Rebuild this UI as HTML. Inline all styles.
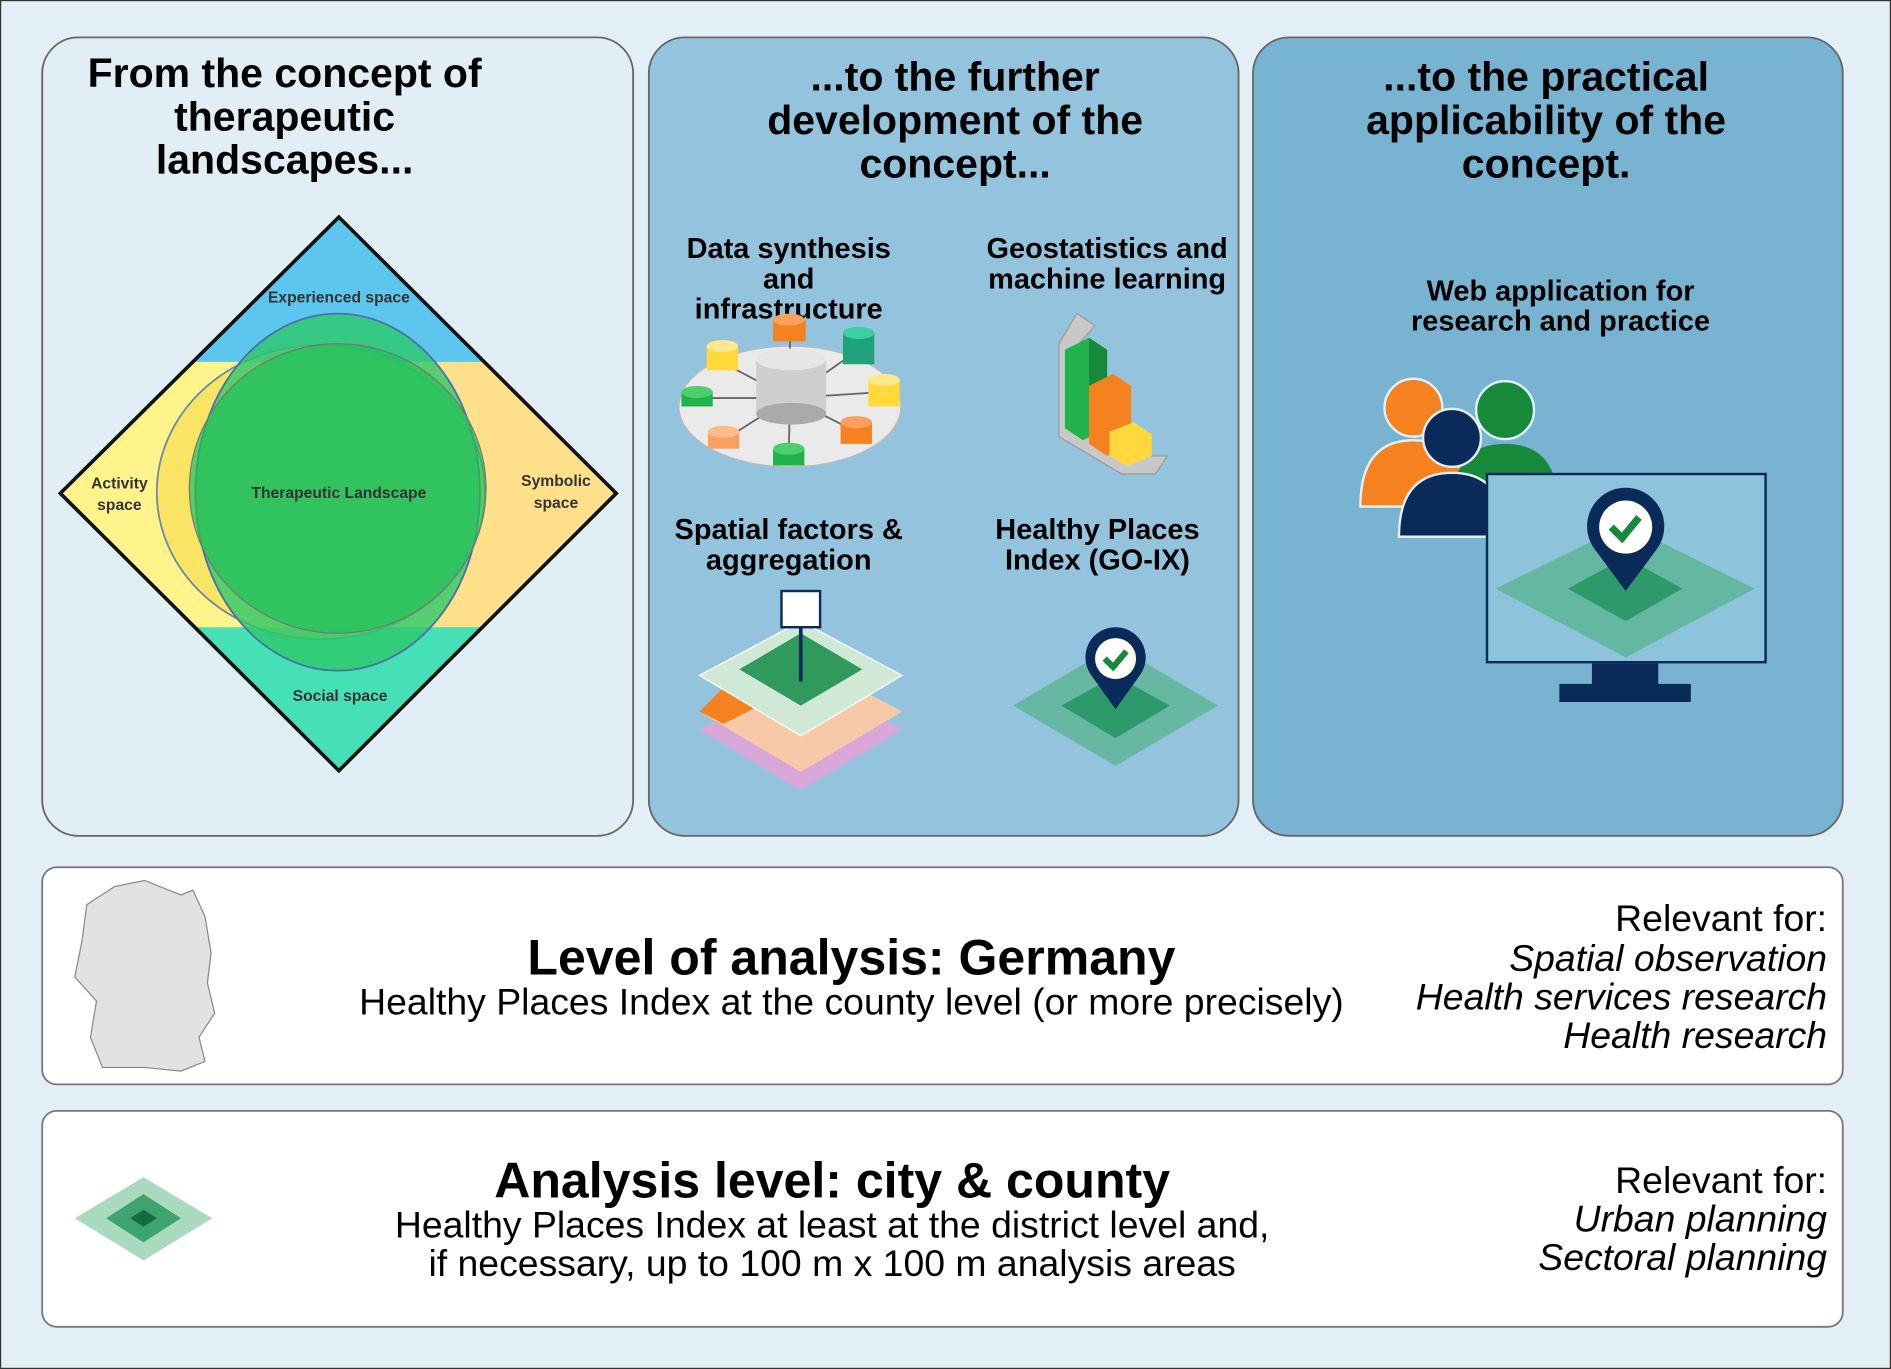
<!DOCTYPE html>
<html><head><meta charset="utf-8"><style>
html,body{margin:0;padding:0;background:#e3eff6}
svg{display:block}
text{font-family:"Liberation Sans",Arial,sans-serif;fill:#000}
.h{font-weight:bold;font-size:34px;text-anchor:middle}
.s{font-weight:bold;font-size:24px;text-anchor:middle}
.d{font-size:13px;font-weight:bold;text-anchor:middle;fill:#333}
</style></head><body>
<svg width="1891" height="1369" viewBox="0 0 1568 1135" preserveAspectRatio="none">
<rect x="0.5" y="0.5" width="1567" height="1134" fill="#e3eff6" stroke="#333"/>
<rect x="35" y="31" width="490" height="662" rx="30" fill="#e1eef5" stroke="#666" stroke-width="1.5"/>
<rect x="538" y="31" width="489" height="662" rx="30" fill="#94c4dd" stroke="#666" stroke-width="1.5"/>
<rect x="1039" y="31" width="489" height="662" rx="30" fill="#78b3d1" stroke="#666" stroke-width="1.5"/>
<rect x="35" y="719" width="1493" height="180" rx="12" fill="#fff" stroke="#777" stroke-width="1.5"/>
<rect x="35" y="921" width="1493" height="179" rx="12" fill="#fff" stroke="#777" stroke-width="1.5"/>

<text class="h" x="236" y="72">From the concept of</text>
<text class="h" x="236" y="108">therapeutic</text>
<text class="h" x="236" y="144">landscapes...</text>
<text class="h" x="792" y="75">...to the further</text>
<text class="h" x="792" y="111">development of the</text>
<text class="h" x="792" y="147">concept...</text>
<text class="h" x="1282" y="75">...to the practical</text>
<text class="h" x="1282" y="111">applicability of the</text>
<text class="h" x="1282" y="147">concept.</text>

<defs><clipPath id="dc"><polygon points="281,180 511,409 281,639 50,409"/></clipPath></defs>
<g clip-path="url(#dc)">
<polygon points="281,180 511,409 281,639 50,409" fill="#fff48c"/>
<polygon points="281,409 511,409 281,639" fill="#ffe08a"/>
<polygon points="281,409 511,409 281,180" fill="#ffe08a"/>
<polygon points="40,300 520,300 281,180" fill="#5cc6ee"/>
<polygon points="40,520 520,520 281,650" fill="#45e0b6"/>
<ellipse cx="266" cy="408" rx="136" ry="122" fill="#f5d84a" fill-opacity="0.6" stroke="#6a8aa8" stroke-width="1.5"/>
<ellipse cx="280" cy="408" rx="118" ry="148" fill="#2dc86a" fill-opacity="0.8" stroke="#4a70a8" stroke-width="1.5"/>
<ellipse cx="280" cy="405" rx="123" ry="120" fill="#22c05a" fill-opacity="0.7" stroke="#777" stroke-width="1"/>
</g>
<polygon points="281,180 511,409 281,639 50,409" fill="none" stroke="#111" stroke-width="3"/>
<text class="d" x="281" y="251">Experienced space</text>
<text class="d" x="281" y="413">Therapeutic Landscape</text>
<text class="d" x="99" y="405">Activity</text><text class="d" x="99" y="423">space</text>
<text class="d" x="461" y="403">Symbolic</text><text class="d" x="461" y="421">space</text>
<text class="d" x="282" y="581">Social space</text>

<text class="s" x="654" y="214">Data synthesis</text>
<text class="s" x="654" y="239">and</text>
<text class="s" x="654" y="264">infrastructure</text>
<text class="s" x="918" y="214">Geostatistics and</text>
<text class="s" x="918" y="239">machine learning</text>
<text class="s" x="654" y="447">Spatial factors &amp;</text>
<text class="s" x="654" y="472">aggregation</text>
<text class="s" x="910" y="447">Healthy Places</text>
<text class="s" x="910" y="472">Index (GO-IX)</text>

<ellipse cx="655" cy="337" rx="92" ry="50" fill="#eaeaea" stroke="#bbb"/>
<g stroke="#666" stroke-width="1.5"><line x1="655" y1="330" x2="598" y2="300"/><line x1="655" y1="330" x2="712" y2="290"/><line x1="655" y1="330" x2="578" y2="330"/><line x1="655" y1="330" x2="732" y2="325"/><line x1="655" y1="330" x2="600" y2="365"/><line x1="655" y1="330" x2="710" y2="358"/><line x1="655" y1="330" x2="654" y2="378"/><line x1="655" y1="330" x2="655" y2="272"/></g>
<rect x="627" y="298" width="58" height="45" fill="#cfcfcf"/><ellipse cx="656" cy="298" rx="29" ry="9" fill="#e6e6e6"/><ellipse cx="656" cy="343" rx="29" ry="9" fill="#aaa"/>
<g>
<rect x="641" y="265" width="27" height="18" fill="#f5821f"/><ellipse cx="654" cy="265" rx="13" ry="5" fill="#f9a15a"/>
<rect x="586" y="287" width="26" height="20" fill="#ffd83a"/><ellipse cx="599" cy="287" rx="13" ry="5" fill="#ffe88a"/>
<rect x="699" y="276" width="26" height="26" fill="#1fa27a"/><ellipse cx="712" cy="276" rx="13" ry="5" fill="#3ad0a4"/>
<rect x="565" y="325" width="26" height="12" fill="#22b24c"/><ellipse cx="578" cy="325" rx="13" ry="5" fill="#4bd06c"/>
<rect x="720" y="315" width="26" height="22" fill="#ffd83a"/><ellipse cx="733" cy="315" rx="13" ry="5" fill="#ffe88a"/>
<rect x="587" y="358" width="26" height="14" fill="#f9a15a"/><ellipse cx="600" cy="358" rx="13" ry="5" fill="#fbbb8a"/>
<rect x="697" y="350" width="26" height="18" fill="#f5821f"/><ellipse cx="710" cy="350" rx="13" ry="5" fill="#f9a15a"/>
<rect x="641" y="372" width="26" height="14" fill="#22b24c"/><ellipse cx="654" cy="372" rx="13" ry="5" fill="#4bd06c"/>
</g>
<polygon points="878,285 893,260 908,270 892,288 892,352 940,378 968,378 958,393 930,393 878,362" fill="#c8c8c8" stroke="#999"/>
<polygon points="883,290 903,280 918,290 918,355 898,365 883,355" fill="#22b24c"/><polygon points="903,280 918,290 918,355 903,345" fill="#168a3a"/>
<polygon points="903,320 923,310 938,320 938,368 918,378 903,368" fill="#f5821f"/>
<polygon points="920,358 940,350 955,360 955,378 935,386 920,378" fill="#ffd83a"/>
<g>
<polygon points="664,560 748,605 664,655 580,605" fill="#d9a6d9"/>
<polygon points="664,545 748,590 664,640 580,590" fill="#f7c9a8"/><polygon points="600,570 630,585 600,600 580,590" fill="#f5821f"/>
<polygon points="664,515 748,560 664,610 580,560" fill="#cfe9d6" stroke="#fff"/>
<polygon points="664,525 715,555 664,585 613,555" fill="#2f9a5c"/>
<line x1="664" y1="495" x2="664" y2="565" stroke="#0a2a5a" stroke-width="3"/>
<rect x="648" y="490" width="32" height="30" fill="#fff" stroke="#0a2a5a" stroke-width="2"/>
</g>
<polygon points="925,535 1010,585 925,635 840,585" fill="#5ab593" opacity="0.8"/>
<polygon points="925,560 970,585 925,612 880,585" fill="#2e9a6c"/>
<path d="M925,588 L905,560 A25,25 0 1 1 945,560 Z" fill="#0a2a5a"/><circle cx="925" cy="546" r="17" fill="#fff"/>
<path d="M916,546 l7,7 l11,-13" stroke="#168a3a" stroke-width="5" fill="none"/>

<text class="s" x="1294" y="249">Web application for</text>
<text class="s" x="1294" y="274">research and practice</text>
<circle cx="1172" cy="338" r="24" fill="#f5821f" stroke="#e3eff6" stroke-width="2"/>
<path d="M1128,420 Q1128,365 1172,365 Q1216,365 1216,420 Z" fill="#f5821f" stroke="#e3eff6" stroke-width="2"/>
<circle cx="1248" cy="340" r="24" fill="#168a3a" stroke="#e3eff6" stroke-width="2"/>
<path d="M1204,420 Q1204,368 1248,368 Q1292,368 1292,420 Z" fill="#168a3a"/>
<circle cx="1204" cy="363" r="24" fill="#0a2a5a" stroke="#e3eff6" stroke-width="2"/>
<path d="M1160,445 Q1160,392 1204,392 Q1248,392 1248,445 Z" fill="#0a2a5a" stroke="#e3eff6" stroke-width="2"/>
<rect x="1233" y="393" width="231" height="156" fill="#8ec3dc" stroke="#0a2a5a" stroke-width="2"/>
<rect x="1320" y="550" width="55" height="18" fill="#0a2a5a"/><rect x="1293" y="567" width="109" height="15" fill="#0a2a5a"/>
<polygon points="1348,435 1455,488 1348,545 1240,488" fill="#5ab593" opacity="0.8"/>
<polygon points="1348,462 1395,488 1348,515 1300,488" fill="#2e9a6c"/>
<path d="M1348,490 L1322,455 A32,32 0 1 1 1374,455 Z" fill="#0a2a5a"/><circle cx="1348" cy="437" r="22" fill="#fff"/>
<path d="M1336,437 l9,9 l14,-17" stroke="#168a3a" stroke-width="6" fill="none"/>

<path d="M95,735 L120,730 L150,742 L160,738 L170,760 L175,790 L172,815 L178,840 L165,860 L170,880 L150,888 L120,885 L85,885 L75,860 L80,830 L62,810 L68,780 L72,750 Z" fill="#e2e2e2" stroke="#888"/>
<text x="706" y="808" style="font-size:41.5px;font-weight:bold;text-anchor:middle">Level of analysis: Germany</text>
<text x="706" y="841" style="font-size:31px;text-anchor:middle">Healthy Places Index at the county level (or more precisely)</text>
<g style="font-size:31px;text-anchor:end">
<text x="1515" y="772">Relevant for:</text>
<text x="1515" y="805" font-style="italic">Spatial observation</text>
<text x="1515" y="837" font-style="italic">Health services research</text>
<text x="1515" y="869" font-style="italic">Health research</text>
<text x="1515" y="989">Relevant for:</text>
<text x="1515" y="1021" font-style="italic">Urban planning</text>
<text x="1515" y="1053" font-style="italic">Sectoral planning</text>
</g>
<polygon points="119,976 176,1010 119,1045 62,1010" fill="#a9d9be"/>
<polygon points="119,990 150,1010 119,1030 88,1010" fill="#3ea36e"/>
<polygon points="119,1003 130,1010 119,1017 108,1010" fill="#146b3f"/>
<text x="690" y="993" style="font-size:41.5px;font-weight:bold;text-anchor:middle">Analysis level: city &amp; county</text>
<text x="690" y="1026" style="font-size:31px;text-anchor:middle">Healthy Places Index at least at the district level and,</text>
<text x="690" y="1058" style="font-size:31px;text-anchor:middle">if necessary, up to 100 m x 100 m analysis areas</text>
</svg>
</body></html>
